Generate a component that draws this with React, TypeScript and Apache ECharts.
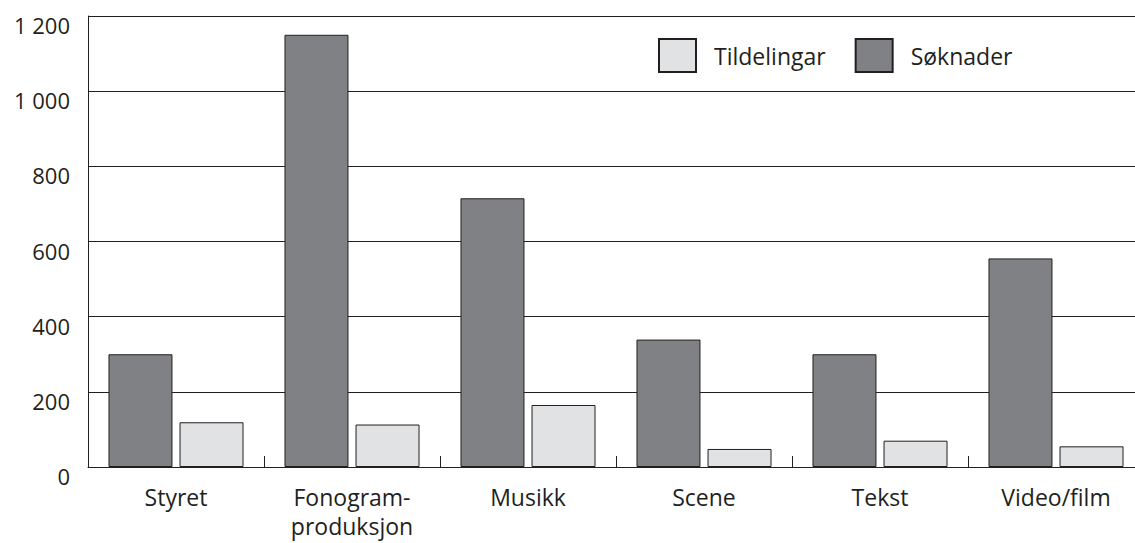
import React, { useEffect, useRef } from "react";
import * as echarts from "echarts";

const categories = ["Styret", "Fonogram-\nproduksjon", "Musikk", "Scene", "Tekst", "Video/film"];
const soknader = [300, 1150, 715, 339, 300, 555];
const tildelingar = [119, 113, 165, 48, 70, 55];
const yTicks = [0, 200, 400, 600, 800, 1000, 1200];

const INK = "#231f20";
const FONT = "'Open Sans', 'Noto Sans', sans-serif";

export default function App() {
  const ref = useRef<HTMLDivElement>(null);
  useEffect(() => {
    if (!ref.current) return;
    const chart = echarts.init(ref.current, undefined, { renderer: "svg" });
    chart.setOption({
      animation: false,
      backgroundColor: "#ffffff",
      textStyle: { fontFamily: FONT, color: INK },
      grid: { left: 88, right: 1, top: 16, bottom: 76, containLabel: false },
      legend: {
        data: ["Tildelingar", "Søknader"],
        left: 653,
        top: 33,
        itemWidth: 37,
        itemHeight: 33,
        itemGap: 29,
        icon: "rect",
        textStyle: { fontSize: 23, color: INK, fontFamily: FONT, padding: [0, 0, 0, 13] },
      },
      xAxis: {
        type: "category",
        data: categories,
        axisLine: { show: true, lineStyle: { color: INK, width: 1 } },
        axisTick: { show: true, inside: true, length: 11, alignWithLabel: false, lineStyle: { color: INK, width: 1 } },
        axisLabel: { fontSize: 23, color: INK, fontFamily: FONT, lineHeight: 29, margin: 15, interval: 0 },
        splitLine: { show: false },
      },
      yAxis: {
        type: "value",
        min: yTicks[0],
        max: yTicks[yTicks.length - 1],
        interval: 200,
        axisLine: { show: true, lineStyle: { color: INK, width: 1 } },
        axisTick: { show: false },
        splitLine: { show: true, lineStyle: { color: INK, width: 1 } },
        axisLabel: {
          fontSize: 22,
          color: INK,
          fontFamily: FONT,
          margin: 18,
          verticalAlign: "top",
          lineHeight: 18,
          formatter: (v: number) => String(v).replace(/\B(?=(\d{3})+(?!\d))/g, " "),
        },
      },
      series: [
        {
          name: "Søknader",
          type: "bar",
          data: soknader,
          barWidth: 64,
          barGap: "11%",
          itemStyle: { color: "#808184", borderColor: INK, borderWidth: 1 },
        },
        {
          name: "Tildelingar",
          type: "bar",
          data: tildelingar,
          barWidth: 64,
          barGap: "11%",
          itemStyle: { color: "#e1e2e3", borderColor: INK, borderWidth: 1 },
        },
      ],
    });
    return () => chart.dispose();
  }, []);
  return (
    <div style={{ position: "fixed", left: 0, top: 0, width: 1135, height: 543, overflow: "hidden", background: "#fff" }}>
      <div ref={ref} style={{ width: 1145, height: 543 }} />
    </div>
  );
}
